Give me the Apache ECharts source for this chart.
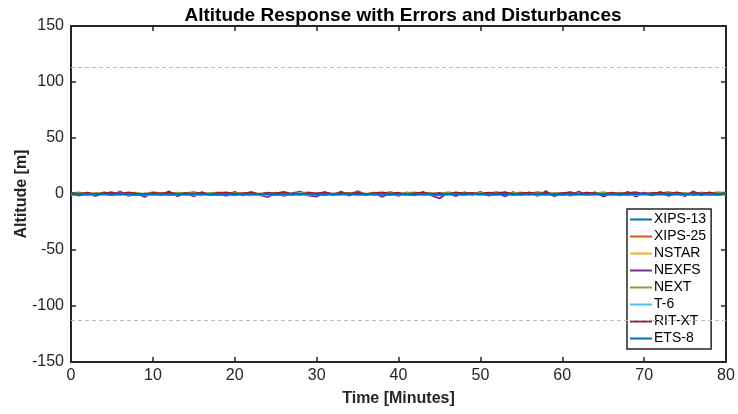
<!DOCTYPE html>
<html>
<head>
<meta charset="utf-8">
<script src="https://cdn.jsdelivr.net/npm/echarts@6/dist/echarts.min.js"></script>
<style>
html,body{margin:0;padding:0;background:#fff;}
#c{width:738px;height:414px;}
</style>
</head>
<body>
<div id="c"></div>
<script>
const time = [0,1,2,3,4,5,6,7,8,9,10,11,12,13,14,15,16,17,18,19,20,21,22,23,24,25,26,27,28,29,30,31,32,33,34,35,36,37,38,39,40,41,42,43,44,45,46,47,48,49,50,51,52,53,54,55,56,57,58,59,60,61,62,63,64,65,66,67,68,69,70,71,72,73,74,75,76,77,78,79,80];
const seriesNames = ['XIPS-13','XIPS-25','NSTAR','NEXFS','NEXT','T-6','RIT-XT','ETS-8'];
const xips13 = [0.3,-0.2,0.5,-0.4,0.1,0.6,-0.3,0.2,-0.5,0.4,
 0.0,-0.6,0.3,0.5,-0.2,0.1,-0.4,0.6,-0.1,0.2,
 -0.3,0.4,-0.5,0.1,0.3,-0.2,0.5,-0.6,0.2,0.0,
 0.4,-0.3,0.1,-0.2,0.6,-0.4,0.3,-0.1,0.2,-0.5,
 0.4,0.1,-0.3,0.5,-0.2,0.0,0.3,-0.6,0.2,0.4,
 -0.1,0.5,-0.3,0.1,-0.4,0.2,0.6,-0.2,0.0,0.3,
 -0.5,0.4,-0.1,0.2,-0.3,0.5,0.1,-0.4,0.3,-0.2,
 0.6,-0.1,0.2,-0.5,0.4,0.0,-0.3,0.1,0.5,-0.2,
 0.3];
const xips25 = [-0.8,0.4,-1.2,-0.3,0.6,-0.9,0.2,-0.5,-1.1,0.3,
 -0.4,0.7,-0.8,-1.3,0.1,-0.6,0.5,-0.2,-1.0,0.4,
 -0.7,0.2,-1.2,0.6,-0.3,-0.9,0.3,-0.5,0.8,-1.1,
 -0.2,0.5,-0.8,-0.4,0.7,-1.2,0.1,-0.6,0.4,-0.9,
 0.3,-0.5,-1.1,0.6,-0.2,-0.8,0.4,-1.3,0.2,-0.4,
 0.7,-0.9,-0.1,0.5,-1.0,-0.3,0.6,-0.7,0.2,-1.2,
 0.4,-0.5,-0.9,0.3,-0.2,0.8,-1.1,-0.4,0.5,-0.8,
 0.1,-1.3,0.6,-0.6,-0.2,0.4,-0.9,0.2,-0.5,-1.0,
 0.3];
const nstar = [-0.5,-1.0,0.3,-0.7,0.1,-1.2,-0.4,0.5,-0.8,-0.2,
 0.4,-0.9,-0.3,0.6,-1.1,-0.5,0.2,-0.7,0.3,-1.0,
 -0.1,0.5,-0.8,-0.4,0.7,-1.2,0.0,-0.6,0.4,-0.9,
 -0.3,0.6,-1.0,-0.2,0.3,-0.7,-1.1,0.4,-0.5,0.1,
 -0.9,0.5,-0.3,-1.2,0.2,-0.6,0.6,-0.8,-0.2,0.4,
 -1.0,-0.4,0.3,-0.7,0.1,-1.1,0.5,-0.3,-0.8,0.2,
 -0.6,0.4,-1.0,-0.1,0.6,-0.9,-0.4,0.2,-1.2,0.3,
 -0.5,0.1,-0.8,0.5,-0.3,-1.0,0.2,-0.6,0.4,-0.7,
 -0.2];
const nexfs = [1.2,-1.5,0.8,-2.0,1.6,-0.9,2.1,-1.8,0.5,-2.6,
 1.4,-0.7,2.3,-1.9,0.9,-2.2,1.7,-1.1,0.6,-1.6,
 1.9,-1.3,2.0,-0.8,-2.9,1.2,-1.7,0.7,2.2,-1.4,
 -2.4,1.8,-1.0,2.1,-1.5,2.7,-0.6,1.3,-2.6,0.9,
 -1.8,1.5,-1.1,2.0,-1.3,-3.9,0.8,-1.9,1.6,-0.7,
 2.0,-1.4,1.1,-2.2,1.7,-0.9,1.4,-1.8,2.6,-2.1,
 0.9,-1.5,2.2,-1.0,1.6,-2.3,0.6,-1.2,1.9,-2.5,
 1.3,-0.8,2.0,-1.7,1.0,-2.0,2.5,-1.1,1.5,-0.9,
 2.0];
const next = [0.8,1.5,-0.3,1.1,0.4,1.8,-0.6,0.9,1.3,-0.2,
 1.6,0.5,-0.4,1.2,0.7,1.9,-0.1,0.8,1.4,-0.5,
 1.0,0.3,1.7,-0.3,1.3,0.6,2.0,-0.2,0.9,1.5,
 0.2,1.4,-0.4,1.1,0.7,1.6,-0.1,1.2,0.4,1.8,
 -0.3,0.9,1.5,0.2,1.1,-0.5,1.7,0.6,1.0,-0.2,
 1.3,0.5,1.8,-0.1,0.8,1.4,0.3,1.9,-0.4,1.0,
 0.6,1.6,-0.2,1.2,0.4,1.7,0.0,1.1,0.7,1.5,
 -0.3,1.3,0.8,1.8,0.2,1.0,-0.4,1.4,0.6,1.6,
 0.9];
const t6 = [-0.6,0.2,-1.1,-0.3,0.4,-0.9,-0.1,-1.2,0.3,-0.5,
 -0.8,0.1,-1.0,-0.4,0.5,-0.7,-1.3,0.0,-0.6,0.3,
 -1.1,-0.2,0.4,-0.8,-0.5,0.2,-1.0,-0.3,0.5,-0.9,
 -0.1,-1.2,0.3,-0.6,-0.2,-1.0,0.4,-0.7,-0.4,0.2,
 -0.9,-0.3,0.1,-1.1,-0.5,0.3,-0.8,-0.2,-1.2,0.4,
 -0.6,-0.1,-1.0,0.2,-0.7,-0.4,0.5,-1.1,-0.3,0.1,
 -0.8,-0.5,0.3,-1.0,-0.2,0.4,-0.9,-0.6,0.2,-1.1,
 -0.3,0.1,-0.7,-0.4,0.5,-1.0,-0.2,0.3,-0.8,-0.5,
 0.0];
const ritxt = [0.9,0.2,1.3,-0.2,0.7,1.1,0.0,1.4,0.4,-0.3,
 1.0,0.6,1.5,-0.1,0.8,0.3,1.2,-0.4,0.9,1.4,
 0.1,0.7,1.3,-0.2,1.0,0.5,1.6,0.2,-0.3,1.1,
 0.6,1.4,0.0,0.9,0.3,1.2,-0.2,0.8,1.5,0.4,
 1.1,-0.1,0.7,1.3,0.2,0.9,-0.3,1.4,0.6,1.0,
 0.1,1.2,0.5,1.6,-0.2,0.8,1.3,0.3,1.0,-0.1,
 0.7,1.4,0.2,1.1,0.6,-0.3,1.3,0.4,0.9,1.5,
 0.0,0.8,1.2,0.3,1.4,-0.2,0.9,0.5,1.3,0.2,
 0.7];
const ets8 = [-0.2,-0.5,0.1,-0.4,-0.1,-0.6,0.0,-0.3,-0.5,0.1,
 -0.3,-0.1,-0.6,0.0,-0.4,-0.2,0.1,-0.5,-0.3,-0.1,
 -0.6,0.0,-0.2,-0.4,0.1,-0.5,-0.3,-0.1,-0.6,0.0,
 -0.3,-0.5,0.1,-0.2,-0.4,0.0,-0.6,-0.1,-0.3,0.1,
 -0.4,-0.2,-0.5,0.0,-0.3,-0.6,0.1,-0.2,-0.4,-0.1,
 0.0,-0.5,-0.3,0.1,-0.4,-0.2,-0.6,0.0,-0.3,-0.1,
 -0.5,0.1,-0.2,-0.4,-0.1,-0.6,0.0,-0.3,-0.5,0.1,
 -0.2,-0.4,0.0,-0.6,-0.1,-0.3,0.1,-0.5,-0.2,-0.4,
 -0.1];
const thresholds = [113, -113];
const xTicks = [0,10,20,30,40,50,60,70,80];
const yTicks = [-150,-100,-50,0,50,100,150];

const seriesValues = [xips13, xips25, nstar, nexfs, next, t6, ritxt, ets8];
const colors = ['#0072BD','#D95319','#EDB120','#7E2F8E','#77AC30','#4DBEEE','#A2142F','#0072BD'];
const txt = '#262626';
const font = 'Liberation Sans, Arial, Helvetica, sans-serif';

const series = seriesNames.map((name, k) => ({
  name: name,
  type: 'line',
  data: time.map((t, i) => [t, seriesValues[k][i]]),
  symbol: 'none',
  lineStyle: { color: colors[k], width: k === 7 ? 2.2 : 1.8 },
  itemStyle: { color: colors[k] },
  animation: false,
  z: 3
}));
series[0].markLine = {
  silent: true,
  symbol: 'none',
  label: { show: false },
  lineStyle: { color: '#bdbdbd', type: [4, 3], width: 1 },
  data: thresholds.map(v => ({ yAxis: v })),
  animation: false
};

const axisLineStyle = { show: true, onZero: false, lineStyle: { color: txt, width: 2 } };
const tickStyle = { show: true, inside: true, length: 5, lineStyle: { color: txt, width: 1.5 } };

const chart = echarts.init(document.getElementById('c'), null, { renderer: 'canvas' });
chart.setOption({
  backgroundColor: '#fff',
  animation: false,
  color: colors,
  title: {
    text: 'Altitude Response with Errors and Disturbances',
    left: 398, top: 1, textAlign: 'center',
    textStyle: { fontFamily: font, fontSize: 19, fontWeight: 'bold', color: '#000' }
  },
  graphic: [{
    type: 'text', x: 22, y: 194, rotation: Math.PI / 2,
    style: {
      text: 'Altitude [m]', fill: txt, align: 'center', verticalAlign: 'middle',
      font: 'bold 16px ' + font
    }
  }],
  grid: { left: 71, right: 12, top: 26, bottom: 52, containLabel: false },
  xAxis: [{
    type: 'value', position: 'bottom', min: xTicks[0], max: xTicks[xTicks.length - 1], interval: 10,
    name: 'Time [Minutes]', nameLocation: 'middle', nameGap: 29,
    nameTextStyle: { fontFamily: font, fontSize: 16, fontWeight: 'bold', color: txt },
    axisLine: axisLineStyle, axisTick: tickStyle,
    axisLabel: { fontFamily: font, fontSize: 16, color: txt, margin: 6 },
    splitLine: { show: false }
  }, {
    type: 'value', position: 'top', min: xTicks[0], max: xTicks[xTicks.length - 1], interval: 10,
    axisLine: axisLineStyle, axisTick: tickStyle,
    axisLabel: { show: false }, splitLine: { show: false }
  }],
  yAxis: [{
    type: 'value', position: 'left', min: yTicks[0], max: yTicks[yTicks.length - 1], interval: 50,
    axisLine: axisLineStyle, axisTick: tickStyle,
    axisLabel: { fontFamily: font, fontSize: 16, color: txt, margin: 7 },
    splitLine: { show: false }
  }, {
    type: 'value', position: 'right', min: yTicks[0], max: yTicks[yTicks.length - 1], interval: 50,
    axisLine: axisLineStyle, axisTick: tickStyle,
    axisLabel: { show: false }, splitLine: { show: false }
  }],
  legend: {
    orient: 'vertical', left: 627, top: 209,
    data: seriesNames,
    icon: 'rect', itemWidth: 22, itemHeight: 2, itemGap: 0,
    padding: [2, 5, 2, 3],
    backgroundColor: '#fff', borderColor: txt, borderWidth: 1.5, borderRadius: 0,
    textStyle: { fontFamily: font, fontSize: 14, color: '#000', lineHeight: 17, padding: [0, 0, 0, -3] }
  },
  series: series
});
</script>
</body>
</html>
